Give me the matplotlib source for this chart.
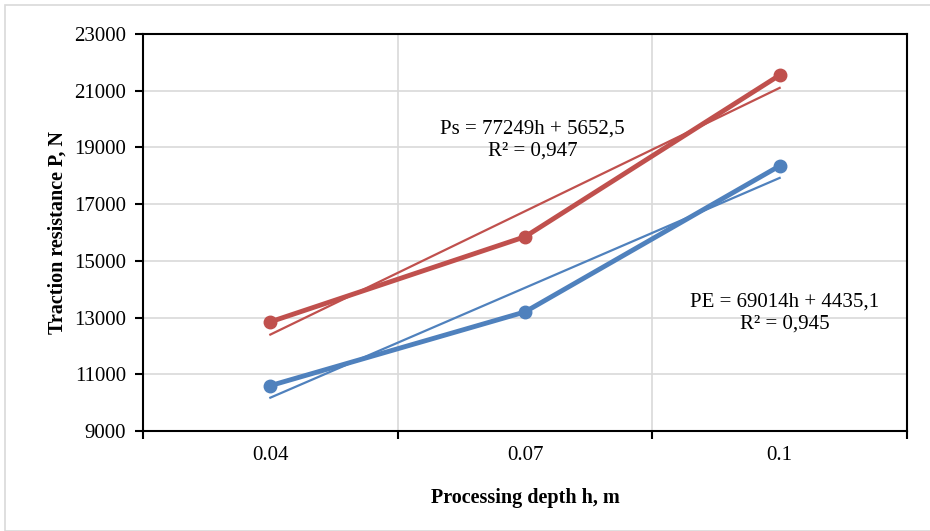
import numpy as np
import matplotlib
matplotlib.use('Agg')
import matplotlib.pyplot as plt
from matplotlib.patches import Rectangle

plt.rcParams['font.family'] = ['Liberation Serif', 'DejaVu Serif']

# data
depths = ['0.04', '0.07', '0.1']
p_s = [12850, 15850, 21550]
p_e = [10600, 13200, 18350]
eq_s = 'Ps = 77249h + 5652,5\nR² = 0,947'
eq_e = 'PE = 69014h + 4435,1\nR² = 0,945'
y_ticks = [9000, 11000, 13000, 15000, 17000, 19000, 21000, 23000]

red = '#C0504D'
blue = '#4F81BD'

fig = plt.figure(figsize=(9.3, 5.31), dpi=100)
fig.patches.append(Rectangle((5 / 930, 0), 930 / 930, 526 / 531, transform=fig.transFigure,
                             fill=False, edgecolor='#d9d9d9', linewidth=1.2))
ax = fig.add_axes([143 / 930, 100 / 531, 764 / 930, 397 / 531])

x = np.arange(1, len(depths) + 1)

# trend lines (linear fit over category index, like Excel)
for vals, col in [(p_s, red), (p_e, blue)]:
    k, b = np.polyfit(x, vals, 1)
    ax.plot(x, k * x + b, color=col, linewidth=1.6, zorder=3)

ax.plot(x, p_s, color=red, linewidth=3.5, marker='o', markersize=9, zorder=4)
ax.plot(x, p_e, color=blue, linewidth=3.5, marker='o', markersize=9, zorder=4)

ax.set_xlim(0.5, 3.5)
ax.set_ylim(9000, 23000)
ax.set_yticks(y_ticks)
ax.set_xticks([0.5, 1.5, 2.5, 3.5])
ax.set_xticklabels([])
ax.set_xticks(x, minor=True)
ax.set_xticklabels(depths, minor=True)
ax.tick_params(axis='x', which='minor', length=0, pad=11, labelsize=15)
ax.tick_params(axis='x', which='major', length=6, width=1.5, direction='out')
ax.tick_params(axis='y', length=6, width=1.5, direction='out', labelsize=15, pad=6)

ax.grid(True, which='major', color='#d9d9d9', linewidth=1.2)
ax.set_axisbelow(True)
for s in ax.spines.values():
    s.set_linewidth(1.5)
    s.set_color('black')

ax.set_xlabel('Processing depth h, m', fontsize=14.5, fontweight='bold', labelpad=16)
ax.set_ylabel('Traction resistance P, N', fontsize=14.5, fontweight='bold', labelpad=5)

ax.text(2.03, 19260, eq_s, ha='center', va='center', fontsize=15, linespacing=1.2)
ax.text(3.02, 13150, eq_e, ha='center', va='center', fontsize=15, linespacing=1.2)

fig.savefig('out.png', dpi=100)
